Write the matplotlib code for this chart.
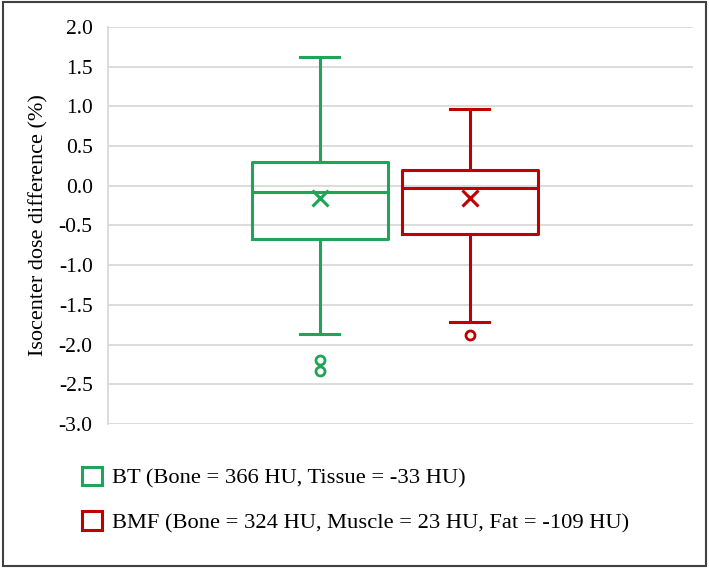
import matplotlib.pyplot as plt
from matplotlib.patches import Rectangle, Patch

plt.rcParams['font.family'] = ['Liberation Serif', 'DejaVu Serif']

# box statistics (isocenter dose difference, %)
series_labels = ["BT (Bone = 366 HU, Tissue = -33 HU)",
                 "BMF (Bone = 324 HU, Muscle = 23 HU, Fat = -109 HU)"]
series_colors = ["#1fa555", "#c00000"]
q1 = [-0.67, -0.61]
median = [-0.08, -0.03]
q3 = [0.30, 0.20]
mean = [-0.15, -0.16]
whislo = [-1.87, -1.72]
whishi = [1.62, 0.97]
fliers = [[-2.19, -2.33], [-1.88]]

y_ticks = [2.0, 1.5, 1.0, 0.5, 0.0, -0.5, -1.0, -1.5, -2.0, -2.5, -3.0]

fig = plt.figure(figsize=(7.09, 5.68), dpi=100)
ax = fig.add_axes([0.1523, 0.2535, 0.8251, 0.699])

positions = [1, 2]
for i, pos in enumerate(positions):
    stats = [dict(q1=q1[i], med=median[i], q3=q3[i], mean=mean[i],
                  whislo=whislo[i], whishi=whishi[i], fliers=fliers[i])]
    c = series_colors[i]
    ax.bxp(stats, positions=[pos], widths=0.907, showmeans=True,
           boxprops=dict(color=c, linewidth=2.2),
           medianprops=dict(color=c, linewidth=2.2),
           whiskerprops=dict(color=c, linewidth=2.2),
           capprops=dict(color=c, linewidth=2.2),
           capwidths=0.26,
           meanprops=dict(marker='x', markeredgecolor=c, markersize=11, markeredgewidth=2.2),
           flierprops=dict(marker='o', markerfacecolor='none', markeredgecolor=c,
                           markersize=6.5, markeredgewidth=2))

ax.set_xlim(-0.413, 3.487)
ax.set_ylim(-3.0, 2.0)
ax.set_yticks(y_ticks)
ax.set_yticklabels([f"{t:.1f}" for t in y_ticks], fontsize=15.5)
ax.set_xticks([])
ax.tick_params(axis='y', length=0, pad=11)
ax.yaxis.grid(True, color='#d9d9d9', linewidth=1.3)
ax.set_axisbelow(True)
for side in ['top', 'right', 'bottom']:
    ax.spines[side].set_visible(False)
ax.spines['left'].set_color('#d9d9d9')
ax.spines['left'].set_linewidth(1.3)
ax.set_ylabel("Isocenter dose difference (%)", fontsize=16, labelpad=7)

handles = [Patch(facecolor='white', edgecolor=c, linewidth=2.2) for c in series_colors]
fig.legend(handles, series_labels, loc='upper left', bbox_to_anchor=(0.103, 0.194),
           frameon=False, fontsize=16.2, handlelength=0.9, handleheight=0.9,
           labelspacing=1.0, handletextpad=0.45, borderaxespad=0)

fig.add_artist(Rectangle((0.004, 0.004), 0.992, 0.992, transform=fig.transFigure,
                         fill=False, edgecolor='#404040', linewidth=1.5))

fig.savefig("out.png", dpi=100)
